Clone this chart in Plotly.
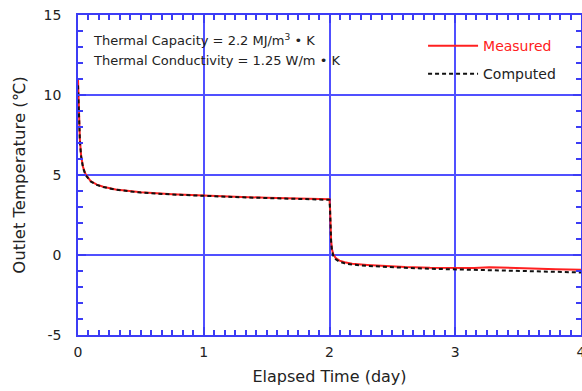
import plotly.graph_objects as go

# Measured data
t_meas = [0, 0.003, 0.008, 0.015, 0.025, 0.04, 0.06, 0.08, 0.1, 0.15, 0.2, 0.3, 0.4, 0.5,
          0.75, 1.0, 1.25, 1.5, 1.75, 2.0, 2.004, 2.008, 2.013, 2.02, 2.03, 2.05, 2.08,
          2.12, 2.18, 2.3, 2.45, 2.6, 2.8, 3.0, 3.15, 3.27, 3.4, 3.6, 3.8, 4.0]
v_meas = [11.0, 9.8, 8.4, 7.2, 6.2, 5.5, 5.05, 4.8, 4.62, 4.4, 4.27, 4.1, 3.99, 3.92,
          3.8, 3.71, 3.64, 3.58, 3.53, 3.48, 3.0, 1.8, 0.9, 0.35, 0.05, -0.2, -0.35,
          -0.45, -0.55, -0.62, -0.7, -0.75, -0.8, -0.83, -0.82, -0.76, -0.8, -0.85, -0.89, -0.92]

# Computed data
t_comp = [0, 0.003, 0.008, 0.015, 0.025, 0.04, 0.06, 0.08, 0.1, 0.15, 0.2, 0.3, 0.4, 0.5,
          0.75, 1.0, 1.25, 1.5, 1.75, 2.0, 2.004, 2.008, 2.013, 2.02, 2.03, 2.05, 2.08,
          2.12, 2.18, 2.3, 2.45, 2.6, 2.8, 3.0, 3.2, 3.4, 3.6, 3.8, 4.0]
v_comp = [10.6, 9.6, 8.3, 7.1, 6.15, 5.45, 5.0, 4.76, 4.6, 4.38, 4.25, 4.08, 3.97, 3.9,
          3.78, 3.69, 3.62, 3.56, 3.5, 3.45, 2.9, 1.7, 0.8, 0.25, -0.05, -0.27, -0.42,
          -0.52, -0.6, -0.68, -0.75, -0.8, -0.86, -0.9, -0.95, -0.99, -1.02, -1.05, -1.09]

x_ticks = [0, 1, 2, 3, 4]
y_ticks = [-5, 0, 5, 10, 15]

BLUE = "#3c3cf5"
GRID = "#5050ff"
TXT = "#222222"
FONT = "DejaVu Sans"

fig = go.Figure()
fig.add_trace(go.Scatter(x=t_meas, y=v_meas, mode="lines", legendgroup="m",
                         name="<span style='color:#ff2020'>Measured</span>",
                         line=dict(color="#ff2020", width=2)))
fig.add_trace(go.Scatter(x=t_comp, y=v_comp, mode="lines", name="Computed", legendgroup="c",
                         line=dict(color="#111111", width=2, dash="4px,3px")))

axis_common = dict(showline=True, linecolor=BLUE, linewidth=1.5, mirror="ticks",
                   showgrid=True, gridcolor=GRID, gridwidth=1.5, zeroline=False,
                   ticks="inside", tickcolor=BLUE, ticklen=8, tickwidth=1.5,
                   automargin=False, ticklabeloverflow="allow",
                   tickfont=dict(size=14, color=TXT, family=FONT))

fig.update_xaxes(range=[0, 4], tickvals=x_ticks, ticktext=[str(v) for v in x_ticks],
                 minor=dict(dtick=1/12, tick0=0, ticks="inside", ticklen=5, tickcolor=BLUE,
                            showgrid=False),
                 ticklabelstandoff=3,
                 title=dict(text="Elapsed Time (day)", font=dict(size=16, color=TXT, family=FONT), standoff=12),
                 **axis_common)
fig.update_yaxes(range=[-5, 15], tickvals=y_ticks, ticktext=[str(v) for v in y_ticks],
                 minor=dict(dtick=1, tick0=0, ticks="inside", ticklen=5, tickcolor=BLUE,
                            showgrid=False),
                 ticklabelstandoff=12,
                 title=dict(text="Outlet Temperature (℃)", font=dict(size=16.5, color=TXT, family=FONT), standoff=14),
                 **axis_common)

fig.add_annotation(xref="paper", yref="paper", x=0.026, y=0.922, xanchor="left", yanchor="middle",
                   text="Thermal Capacity = 2.2 MJ/m<sup>3</sup> • K", showarrow=False,
                   font=dict(size=13, color=TXT, family=FONT))
fig.add_annotation(xref="paper", yref="paper", x=0.026, y=0.857, xanchor="left", yanchor="middle",
                   text="Thermal Conductivity = 1.25 W/m • K", showarrow=False,
                   font=dict(size=13, color=TXT, family=FONT))

fig.update_layout(width=582, height=391, margin=dict(l=78, r=1, t=15, b=56),
                  paper_bgcolor="white", plot_bgcolor="white",
                  font=dict(family=FONT, color=TXT),
                  legend=dict(x=0.686, y=0.953, xanchor="left", yanchor="top",
                              bgcolor="rgba(0,0,0,0)", font=dict(size=14, family=FONT, color=TXT),
                              itemwidth=50, tracegroupgap=7))

fig.write_html("out.html", config={"displayModeBar": False},
               post_script="document.body.style.margin='0';document.body.style.overflow='hidden';")
